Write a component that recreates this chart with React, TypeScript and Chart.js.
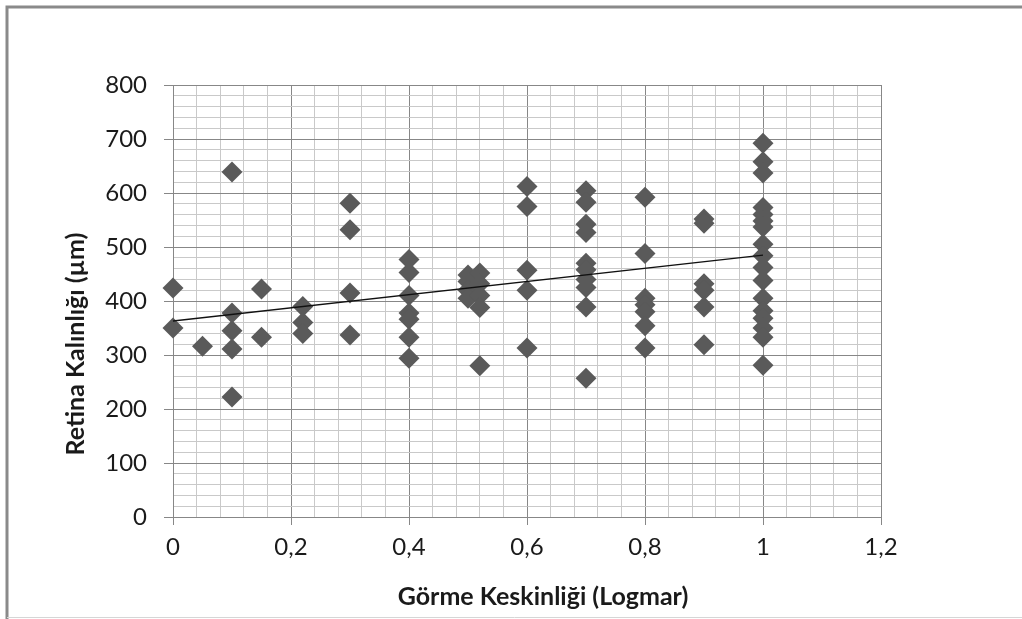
import React, { useEffect, useRef } from 'react';
import { Chart, registerables } from 'chart.js';

Chart.register(...registerables);

// Visual acuity (Logmar) levels and retinal thickness values (µm) at each level
const acuityLevels = [0, 0.05, 0.1, 0.15, 0.22, 0.3, 0.4, 0.5, 0.52, 0.6, 0.7, 0.8, 0.9, 1];
const thickness00 = [424, 350];
const thickness005 = [316];
const thickness01 = [639, 378, 345, 311, 222];
const thickness015 = [422, 333];
const thickness022 = [390, 360, 340];
const thickness03 = [581, 532, 415, 337];
const thickness04 = [477, 453, 410, 378, 366, 333, 294];
const thickness05 = [448, 436, 420, 405];
const thickness052 = [452, 432, 410, 388, 280];
const thickness06 = [612, 575, 457, 420, 313];
const thickness07 = [604, 583, 542, 527, 470, 458, 440, 425, 389, 257];
const thickness08 = [592, 488, 405, 393, 380, 354, 313];
const thickness09 = [552, 544, 432, 420, 389, 319];
const thickness10 = [692, 658, 637, 573, 560, 548, 537, 505, 484, 462, 438, 405, 382, 368, 350, 333, 281];
const thicknessByLevel = [
  thickness00, thickness005, thickness01, thickness015, thickness022, thickness03, thickness04,
  thickness05, thickness052, thickness06, thickness07, thickness08, thickness09, thickness10,
];

// Linear trend line end points
const trendX = [0, 1];
const trendY = [363, 485];

// Axis settings
const xMin = 0, xMax = 1.2, xMajor = 0.2, xMinor = 0.04;
const yMin = 0, yMax = 800, yMajor = 100, yMinor = 20;

const xTitle = 'Görme Keskinliği (Logmar)';
const yTitle = 'Retina Kalınlığı (µm)';

const FONT = 'Lato';
const MAJOR = '#878787';
const MINOR = '#c9c9c9';
const TEXT = '#1a1a1a';

const isMultiple = (v: number, step: number) => Math.abs(v / step - Math.round(v / step)) < 1e-6;

const framePlugin = {
  id: 'frame',
  beforeDraw(chart: any) {
    const ctx = chart.ctx;
    ctx.save();
    ctx.fillStyle = '#ffffff';
    ctx.fillRect(0, 0, chart.width, chart.height);
    ctx.strokeStyle = '#8a8a8a';
    ctx.lineWidth = 3;
    ctx.beginPath();
    ctx.moveTo(7, chart.height);
    ctx.lineTo(7, 7);
    ctx.lineTo(chart.width, 7);
    ctx.stroke();
    ctx.strokeStyle = '#d6d6d6';
    ctx.lineWidth = 1;
    ctx.beginPath();
    ctx.moveTo(7, 617.5);
    ctx.lineTo(chart.width, 617.5);
    ctx.stroke();
    ctx.restore();
  },
};

// Axis titles placed like the original (offset from plot centre)
const axisTitlePlugin = {
  id: 'axisTitles',
  afterDraw(chart: any) {
    const ctx = chart.ctx;
    const area = chart.chartArea;
    ctx.save();
    ctx.fillStyle = TEXT;
    ctx.font = `bold 25px ${FONT}`;
    ctx.textAlign = 'center';
    ctx.textBaseline = 'middle';
    ctx.fillText(xTitle, (area.left + area.right) / 2 + 16, 597);
    ctx.translate(76, (area.top + area.bottom) / 2 + 43);
    ctx.rotate(-Math.PI / 2);
    ctx.fillText(yTitle, 0, 0);
    ctx.restore();
  },
};

export default function App() {
  const canvasRef = useRef<HTMLCanvasElement | null>(null);

  useEffect(() => {
    if (!canvasRef.current) return;
    const points: { x: number; y: number }[] = [];
    acuityLevels.forEach((lvl, i) => {
      thicknessByLevel[i].forEach((t) => points.push({ x: lvl, y: t }));
    });
    const trend = trendX.map((x, i) => ({ x, y: trendY[i] }));

    const chart = new Chart(canvasRef.current, {
      type: 'scatter',
      data: {
        datasets: [
          {
            type: 'line',
            label: 'Trend',
            data: trend,
            borderColor: '#111111',
            borderWidth: 1.4,
            pointRadius: 0,
            fill: false,
          } as any,
          {
            label: 'Retina',
            data: points,
            pointStyle: 'rectRot',
            pointRadius: 10.5,
            backgroundColor: '#5a5a5a',
            borderColor: '#5a5a5a',
            borderWidth: 0,
            clip: false,
          } as any,
        ],
      },
      options: {
        responsive: false,
        animation: false,
        layout: { padding: { left: 61, right: 141, top: 85, bottom: 7 } },
        plugins: {
          legend: { display: false },
          tooltip: { enabled: false },
        },
        scales: {
          x: {
            type: 'linear',
            min: xMin,
            max: xMax,
            afterFit: (scale: any) => { scale.height = 95; },
            ticks: {
              stepSize: xMinor,
              autoSkip: false,
              maxRotation: 0,
              minRotation: 0,
              padding: 8,
              color: TEXT,
              font: { family: FONT, size: 24 },
              callback: (v: any) => (isMultiple(Number(v), xMajor) ? String(Math.round(Number(v) * 10) / 10).replace('.', ',') : ''),
            },
            grid: {
              color: (c: any) => (isMultiple(c.tick.value, xMajor) ? MAJOR : MINOR),
              tickColor: (c: any) => (isMultiple(c.tick.value, xMajor) ? MAJOR : 'rgba(0,0,0,0)'),
              tickLength: 8,
              lineWidth: 1,
            },
            border: { color: MAJOR },
            title: { display: false },
          },
          y: {
            type: 'linear',
            min: yMin,
            max: yMax,
            afterFit: (scale: any) => { scale.width = 112; },
            ticks: {
              stepSize: yMinor,
              autoSkip: false,
              padding: 17,
              color: TEXT,
              font: { family: FONT, size: 24 },
              callback: (v: any) => (isMultiple(Number(v), yMajor) ? String(v) : ''),
            },
            grid: {
              color: (c: any) => (isMultiple(c.tick.value, yMajor) ? MAJOR : MINOR),
              tickColor: (c: any) => (isMultiple(c.tick.value, yMajor) ? MAJOR : 'rgba(0,0,0,0)'),
              tickLength: 9,
              lineWidth: 1,
            },
            border: { color: MAJOR },
            title: { display: false },
          },
        },
      },
      plugins: [framePlugin, axisTitlePlugin],
    });
    return () => chart.destroy();
  }, []);

  return (
    <div style={{ position: 'absolute', left: 0, top: 0, width: 1022, height: 619 }}>
      <canvas ref={canvasRef} width={1022} height={619} />
    </div>
  );
}
